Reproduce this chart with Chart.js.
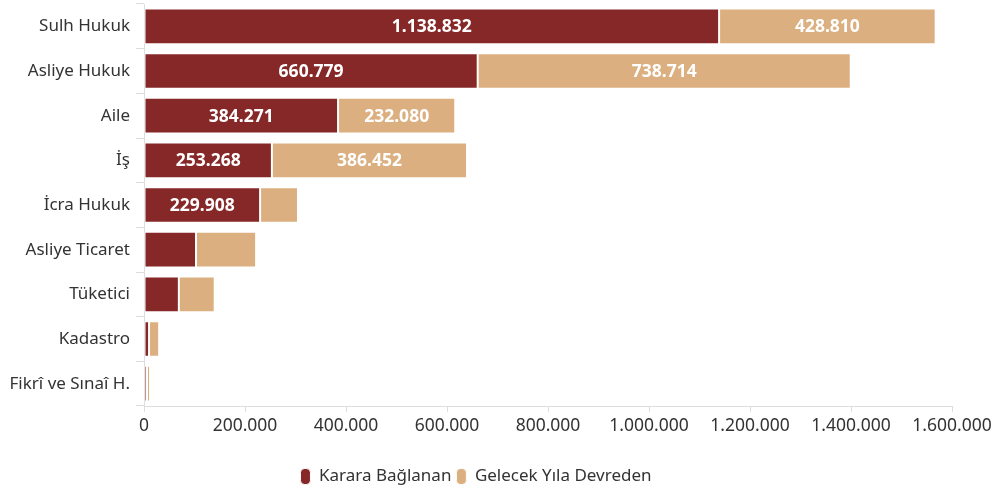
<!DOCTYPE html>
<html><head><meta charset="utf-8">
<script src="https://cdn.jsdelivr.net/npm/chart.js@4"></script>
<style>html,body{margin:0;padding:0;background:#fff}#wrap{width:993px;height:488px}</style>
</head><body><div id="wrap"><canvas id="c" width="993" height="488"></canvas></div>
<script>
const categories = ["Sulh Hukuk","Asliye Hukuk","Aile","İş","İcra Hukuk","Asliye Ticaret","Tüketici","Kadastro","Fikrî ve Sınaî H."];
const karara = [1138832,660779,384271,253268,229908,103000,69000,10000,6000];
const gelecek = [428810,738714,232080,386452,75000,119000,71000,20000,6000];
const seriesNames = ["Karara Bağlanan","Gelecek Yıla Devreden"];
const xTicks = [0,200000,400000,600000,800000,1000000,1200000,1400000,1600000];
const labelMin = 200000;

const fmt = v => v.toString().replace(/\B(?=(\d{3})+(?!\d))/g, ".");

const labelPlugin = {
  id:'lbl',
  afterDatasetsDraw(chart){
    const ctx = chart.ctx;
    ctx.save();
    ctx.font = "bold 17.5px 'Noto Sans'";
    ctx.fillStyle = "#fff";
    ctx.textAlign = "center";
    ctx.textBaseline = "middle";
    chart.data.datasets.forEach((ds,i)=>{
      const meta = chart.getDatasetMeta(i);
      meta.data.forEach((bar,j)=>{
        const v = ds.data[j];
        if (v < labelMin) return;
        const x = (bar.x + bar.base)/2;
        ctx.fillText(fmt(v), x, bar.y + 1);
      });
    });
    ctx.restore();
  }
};

new Chart(document.getElementById('c'), {
  type:'bar',
  data:{
    labels:categories,
    datasets:[
      {label:seriesNames[0], data:karara, backgroundColor:'#862828', borderColor:'#fff', borderWidth:1, borderSkipped:false, categoryPercentage:0.8, barPercentage:1},
      {label:seriesNames[1], data:gelecek, backgroundColor:'#dbaf7f', borderColor:'#fff', borderWidth:1, borderSkipped:false, categoryPercentage:0.8, barPercentage:1}
    ]
  },
  options:{
    indexAxis:'y',
    responsive:false,
    animation:false,
    layout:{padding:{left:0,right:41,top:4,bottom:-7}},
    scales:{
      x:{
        stacked:true, min:0, max:1600000,
        afterBuildTicks(s){ s.ticks = xTicks.map(v=>({value:v})); },
        afterFit(s){ s.height += 22; s.paddingRight = 0; s.paddingLeft = 0; },
        grid:{drawOnChartArea:false, drawTicks:true, tickLength:6, color:'#ddd'},
        border:{color:'#ddd'},
        ticks:{color:'#333', font:{family:"'Noto Sans'", size:17.5}, padding:4, maxRotation:0, callback:v=>fmt(v)}
      },
      y:{
        stacked:true,
        afterFit(s){ s.width = 144; s.paddingTop = 0; s.paddingBottom = 0; },
        grid:{drawOnChartArea:false, drawTicks:true, tickLength:8, color:'#ddd'},
        border:{color:'#ddd'},
        ticks:{color:'#333', font:{family:"'Noto Sans'", size:17}, padding:6}
      }
    },
    plugins:{
      legend:{position:'bottom', labels:{boxWidth:10, boxHeight:16, useBorderRadius:true, borderRadius:4, color:'#333', font:{family:"'Noto Sans'", size:17}, padding:5}},
      tooltip:{enabled:false}
    }
  },
  plugins:[labelPlugin]
});
</script></body></html>
